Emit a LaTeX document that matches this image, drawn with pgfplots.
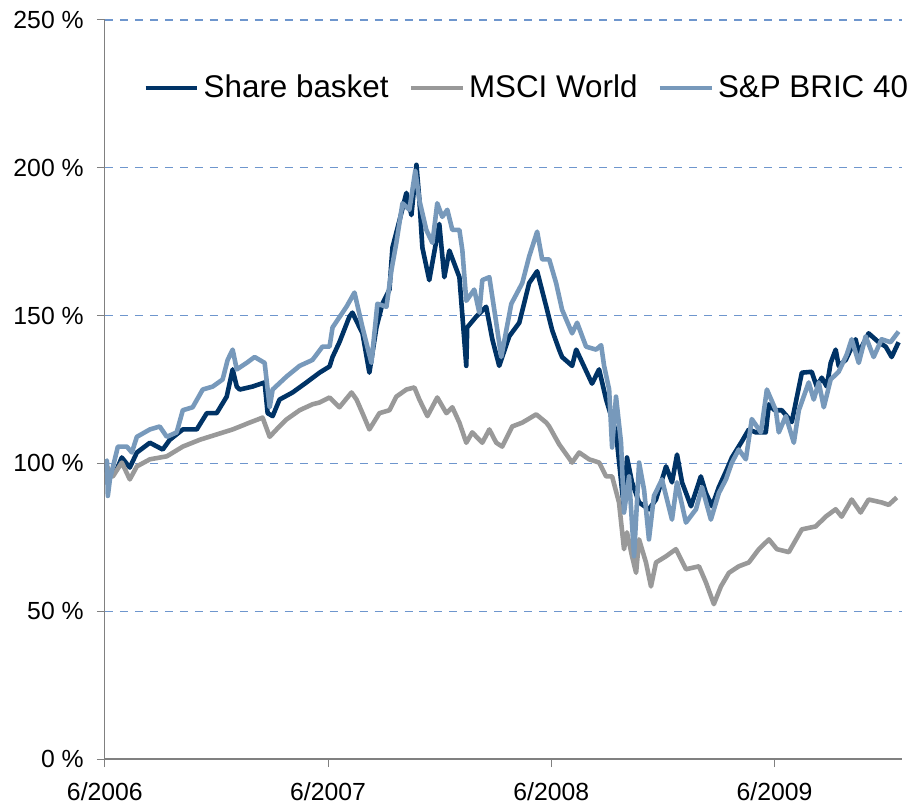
\documentclass[border=0pt]{standalone}
\usepackage{fontspec}
\setmainfont{Liberation Sans}
\usepackage{pgfplots}
\usepackage{pgfplotstable}
\pgfplotsset{compat=1.18}
\definecolor{basket}{RGB}{0,51,102}
\definecolor{msci}{RGB}{153,153,153}
\definecolor{bric}{RGB}{119,153,187}
\definecolor{gridc}{RGB}{110,150,205}
\definecolor{axisc}{RGB}{128,128,128}

% x = months since 6/2006, y = index in %
\pgfplotstableread{
m v
0 100
0.11 97.3
0.27 97
0.64 98
0.91 102
1.34 98.6
1.72 103.7
2.42 107
3.11 104.7
3.49 108
4.19 111.5
4.94 111.5
5.48 117
6.01 117
6.55 122.6
6.87 131.8
7.09 126
7.25 125
7.94 126
8.59 127.4
8.75 117
9.02 116
9.39 121.6
10.09 124
10.84 127.4
11.54 130.7
12.08 132.8
12.24 136
12.61 141
13.15 149.7
13.31 151
13.85 144
14.22 130.7
14.60 146
14.92 154
15.30 158.8
15.46 173
15.83 182
16.21 191.5
16.48 184
16.75 201
16.91 189
17.07 173
17.44 162
17.98 181
18.25 163
18.52 172
19.06 163
19.43 133
19.48 146
19.97 149.7
20.50 153
20.83 142
21.20 133
21.74 143
22.28 147.6
22.81 161
23.24 165
23.73 153
24.05 145
24.42 138.5
24.58 136
25.12 133
25.34 138.5
26.19 127
26.57 131.8
26.95 121.6
27.48 110.5
27.91 84.5
28.07 102
28.34 93.6
28.72 86.8
29.25 84.5
29.63 87.8
30.17 99
30.49 93.6
30.76 103
31.03 93.6
31.51 85.5
32.04 95.6
32.31 90
32.64 85.5
33.01 92
33.44 98
33.71 102
34.25 107.5
34.62 111.5
35.00 110.5
35.53 110.5
35.70 120
36.00 118
36.39 118
36.93 114
37.47 130.7
38.00 131
38.27 126
38.54 129
38.81 126
39.02 134
39.29 138.5
39.45 133
39.83 135
40.36 142
40.53 137.5
41.06 144
41.60 141
41.98 139.5
42.30 136
42.67 141
}\basket

\pgfplotstableread{
m v
0 100
0.11 99
0.43 95.6
0.91 100.3
1.34 94.6
1.72 99
2.42 101.4
3.33 102.4
4.19 105.7
5.10 108
6.01 109.8
6.87 111.5
7.78 113.8
8.48 115.5
8.86 109
9.23 111.5
9.77 114.9
10.47 118
11.16 120
11.54 120.6
12.08 122.3
12.61 119
13.26 124
13.53 121.6
13.85 117
14.22 111.5
14.76 117
15.30 118
15.67 122.6
16.21 125
16.64 125.7
16.91 121.6
17.34 116
17.87 122.3
18.36 117
18.68 119
19.06 113.8
19.43 107
19.75 110.5
20.29 107
20.67 111.5
21.04 107
21.36 105.7
21.90 112.5
22.44 113.8
23.19 116.6
23.73 113.8
23.89 112.5
24.42 106.5
25.12 100.3
25.50 103.7
26.03 101.4
26.57 100.3
26.95 95.6
27.27 95.6
27.64 86.8
27.91 71
28.07 76.7
28.34 68.6
28.56 63
28.72 74.3
29.09 66.5
29.36 58.4
29.63 66.5
30.17 68.6
30.70 71
31.24 64.2
31.94 65.2
32.31 59.8
32.74 52.4
33.12 58.4
33.55 63
34.08 65.2
34.62 66.5
35.16 71
35.70 74.3
36.13 71
36.77 70
37.47 77.7
38.22 78.7
38.75 82
39.29 84.5
39.61 82
40.15 87.8
40.63 83.4
41.06 87.8
41.76 86.8
42.14 86
42.57 88.5
}\msci

\pgfplotstableread{
m v
0 100
0.11 101
0.16 89
0.27 94.6
0.70 105.7
1.18 105.7
1.45 103.7
1.72 109
2.42 111.5
2.95 112.5
3.33 109
3.86 110.5
4.19 118
4.72 119
5.26 125
5.80 126
6.33 128.4
6.60 135
6.87 138.5
7.09 131.8
7.62 134
8.05 136
8.59 134
8.86 119
9.02 125
9.77 129.4
10.47 133
11.16 135
11.70 139.5
12.08 139.5
12.24 146
12.99 153
13.42 157.8
13.85 146
14.33 134
14.65 154
15.14 153
15.41 165.5
15.67 174.6
16.00 188
16.37 185.8
16.69 199
16.91 189
17.28 179
17.61 174.6
17.87 188
18.14 183.4
18.41 185.8
18.68 179
19.06 179
19.22 172
19.43 155
19.86 158.8
20.13 151
20.29 162
20.67 163
21.04 147.6
21.31 136
21.85 154
22.44 161
22.81 170
23.24 178.4
23.51 169
23.89 169
24.26 161
24.58 152
25.12 144
25.39 147.6
25.87 139.5
26.41 138.5
26.68 140
26.84 133
27.11 125
27.27 105.4
27.48 122.6
27.75 107
27.91 83.4
28.18 95.6
28.45 68.6
28.72 100.3
28.99 91
29.25 74.3
29.52 89
29.95 94.6
30.49 81
30.76 93.6
31.24 80
31.78 84.5
32.10 92
32.58 81
33.01 90
33.39 94.6
33.71 100.3
34.08 104.7
34.46 101.4
34.78 115
35.27 110.5
35.59 125
36.07 118
36.23 110.5
36.61 116
37.04 107
37.31 118
37.84 127.4
38.11 121.6
38.38 127.4
38.65 119
39.02 128.4
39.45 131
39.88 136.8
40.15 142
40.53 134
40.90 143
41.33 136
41.76 142
42.24 141
42.67 144.6
}\bric

\begin{document}
\begin{tikzpicture}
\begin{axis}[
  at={(0,0)}, anchor=south west,
  scale only axis, width=399pt, height=370pt,
  xmin=0, xmax=42.85, ymin=0, ymax=250,
  axis lines*=left,
  x axis line style={draw=axisc, line width=0.8pt},
  y axis line style={draw=axisc, line width=0.5pt},
  xtick={0,12,24,36}, xticklabels={6/2006,6/2007,6/2008,6/2009},
  ytick={0,50,100,150,200,250},
  yticklabels={0 \%,50 \%,100 \%,150 \%,200 \%,250 \%},
  tick align=outside, major tick length=4pt,
  major tick style={draw=axisc, line width=0.5pt},
  ticklabel style={font=\fontsize{12.4}{14}\selectfont},
  yticklabel style={inner sep=0pt, anchor=east, xshift=-6.4pt},
  xticklabel style={inner sep=0pt, anchor=north, yshift=-7.4pt},
  every axis plot/.append style={line width=2.3pt, line join=round, mark=none},
  legend columns=3,
  legend style={at={(0.0476,0.908)}, anchor=west, draw=none, fill=none,
    inner sep=0pt, font=\fontsize{15.7}{18}\selectfont,
    nodes={inner sep=0pt}, column sep=0pt,
    /tikz/every odd column/.style={column sep=2pt},
    /tikz/every even column/.style={column sep=10pt}},
  legend image code/.code={\draw[#1] (0pt,0pt) -- (26pt,0pt);},
]
\pgfplotsinvokeforeach{50,100,150,200,250}{
  \draw[draw=gridc, line width=0.6pt, dash pattern=on 4pt off 3.5pt]
    (axis cs:0,#1) -- (axis cs:42.85,#1);
}
\addplot[basket] table[x=m,y=v] {\basket};
\addlegendentry{Share basket}
\addplot[msci] table[x=m,y=v] {\msci};
\addlegendentry{MSCI World}
\addplot[bric] table[x=m,y=v] {\bric};
\addlegendentry{S\&P BRIC 40}
\end{axis}
\path ([shift={(-52.5pt,-26pt)}]current axis.south west) rectangle ([shift={(401.5pt,380pt)}]current axis.south west);
\end{tikzpicture}
\end{document}
